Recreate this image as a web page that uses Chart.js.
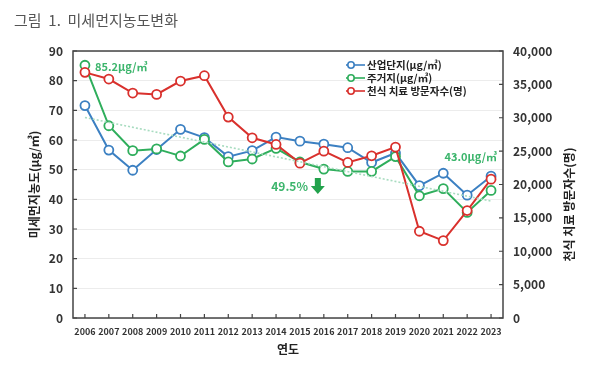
<!DOCTYPE html>
<html>
<head>
<meta charset="utf-8">
<script src="https://cdn.jsdelivr.net/npm/chart.js@4.4.1/dist/chart.umd.min.js"></script>
<style>
  html, body { margin: 0; padding: 0; background: #fff; }
  #wrap { width: 600px; height: 368px; position: relative; }
</style>
</head>
<body>
<div id="wrap"><canvas id="myChart" width="600" height="368"></canvas></div>
<script>
// 연도별 미세먼지 농도와 천식 치료 방문자수

const years = ['2006','2007','2008','2009','2010','2011','2012','2013','2014','2015','2016','2017','2018','2019','2020','2021','2022','2023'];
const industrial = [71.6, 56.6, 49.8, 56.8, 63.6, 60.8, 54.4, 56.4, 61.0, 59.6, 58.6, 57.4, 52.4, 55.6, 44.6, 48.8, 41.4, 47.8];
const residential = [85.2, 64.8, 56.4, 57.0, 54.6, 60.2, 52.6, 53.6, 57.2, 52.6, 50.2, 49.4, 49.4, 54.4, 41.2, 43.6, 35.6, 43.0];
const visitors = [36800, 35800, 33700, 33500, 35500, 36300, 30100, 27000, 26000, 23200, 25000, 23300, 24300, 25600, 13000, 11600, 16100, 20800];
const trend = [67.6, null, null, null, null, null, null, null, null, null, null, null, null, null, null, null, null, 39.4];
const leftTicks = [0, 10, 20, 30, 40, 50, 60, 70, 80, 90];
const rightTicks = [0, 5000, 10000, 15000, 20000, 25000, 30000, 35000, 40000];

const BLUE = '#3c80c2';
const GREEN = '#2fae5c';
const RED = '#d9312d';
const LABEL_GREEN = '#3cb56c';
const FONT = '"Noto Sans CJK KR", "Noto Sans", sans-serif';

const ctx = document.getElementById('myChart').getContext('2d');

function lineSet(label, data, color, axis) {
    return {
        label: label,
        data: data,
        yAxisID: axis,
        borderColor: color,
        backgroundColor: '#fff',
        borderWidth: 2,
        pointRadius: 4.5,
        pointBorderWidth: 1.8,
        pointBackgroundColor: '#fff',
        pointBorderColor: color,
        tension: 0
    };
}

const extras = {
    id: 'extras',
    afterDraw(chart) {
        const c = chart.ctx;
        const a = chart.chartArea;
        const x = chart.scales.x;
        const y = chart.scales.y;
        c.save();

        // title
        c.fillStyle = '#555';
        c.font = '15px ' + FONT;
        c.textAlign = 'left';
        c.textBaseline = 'middle';
        c.fillText('그림  1.  미세먼지농도변화', 14, 20);

        // frame
        c.strokeStyle = '#444';
        c.lineWidth = 1.5;
        c.strokeRect(a.left, a.top, a.right - a.left, a.bottom - a.top);

        // inner tick marks
        c.lineWidth = 1.2;
        c.beginPath();
        leftTicks.forEach(v => {
            const py = y.getPixelForValue(v);
            c.moveTo(a.left, py); c.lineTo(a.left + 4, py);
        });
        rightTicks.forEach(v => {
            const py = chart.scales.y1.getPixelForValue(v);
            c.moveTo(a.right, py); c.lineTo(a.right - 4, py);
        });
        years.forEach((yr, i) => {
            const px = x.getPixelForValue(i);
            c.moveTo(px, a.bottom); c.lineTo(px, a.bottom - 4);
        });
        c.stroke();

        // axis titles
        c.fillStyle = '#222';
        c.font = 'bold 12px ' + FONT;
        c.textAlign = 'center';
        c.fillText('연도', (a.left + a.right) / 2, 349);
        c.save();
        c.translate(34, (a.top + a.bottom) / 2);
        c.rotate(-Math.PI / 2);
        c.fillText('미세먼지농도(μg/㎥)', 0, 0);
        c.restore();
        c.save();
        c.translate(569, (a.top + a.bottom) / 2 + 20);
        c.rotate(-Math.PI / 2);
        c.fillText('천식 치료 방문자수(명)', 0, 0);
        c.restore();

        // annotations
        c.fillStyle = LABEL_GREEN;
        c.font = 'bold 11px ' + FONT;
        c.textAlign = 'left';
        c.fillText('85.2μg/㎥', x.getPixelForValue(0) + 10, y.getPixelForValue(85.2) + 2);
        c.textAlign = 'right';
        c.fillText('43.0μg/㎥', a.right - 6, y.getPixelForValue(54.5));
        c.font = 'bold 12px ' + FONT;
        c.fillText('49.5%', x.getPixelForValue(9) + 8, y.getPixelForValue(44.5));

        // down arrow
        const ax = x.getPixelForValue(10) - 6;
        const ay = y.getPixelForValue(47.2);
        c.fillStyle = '#22a24c';
        c.beginPath();
        c.rect(ax - 3, ay, 6, 8);
        c.moveTo(ax - 7, ay + 8);
        c.lineTo(ax + 7, ay + 8);
        c.lineTo(ax, ay + 16);
        c.closePath();
        c.fill();

        // legend
        const items = [
            ['산업단지(μg/㎥)', BLUE],
            ['주거지(μg/㎥)', GREEN],
            ['천식 치료 방문자수(명)', RED]
        ];
        c.font = 'bold 10.5px ' + FONT;
        c.textAlign = 'left';
        items.forEach((it, i) => {
            const ly = 65 + i * 13;
            c.strokeStyle = it[1];
            c.lineWidth = 1.6;
            c.beginPath();
            c.moveTo(346, ly); c.lineTo(365, ly);
            c.stroke();
            c.fillStyle = '#fff';
            c.beginPath();
            c.arc(351, ly, 3.2, 0, Math.PI * 2);
            c.fill();
            c.stroke();
            c.fillStyle = '#222';
            c.fillText(it[0], 367, ly);
        });

        c.restore();
    }
};

new Chart(ctx, {
    type: 'line',
    data: {
        labels: years,
        datasets: [
            {
                label: 'trend',
                data: trend,
                yAxisID: 'y',
                borderColor: '#a8dcc0',
                borderWidth: 1.6,
                borderDash: [2, 2],
                pointRadius: 0,
                spanGaps: true,
                tension: 0
            },
            lineSet('천식 치료 방문자수(명)', visitors, RED, 'y1'),
            lineSet('주거지(μg/㎥)', residential, GREEN, 'y'),
            lineSet('산업단지(μg/㎥)', industrial, BLUE, 'y')
        ]
    },
    options: {
        responsive: false,
        animation: false,
        layout: { padding: { top: 51, left: 0, right: 0, bottom: 0 } },
        plugins: {
            legend: { display: false },
            tooltip: { enabled: false }
        },
        scales: {
            x: {
                offset: true,
                grid: { display: false, drawTicks: false },
                border: { display: false },
                ticks: {
                    color: '#333',
                    font: { family: FONT, size: 9, weight: 'bold' },
                    maxRotation: 0,
                    autoSkip: false,
                    padding: 8
                },
                afterFit(s) { s.height = 50; }
            },
            y: {
                position: 'left',
                min: 0,
                max: 90,
                afterBuildTicks(s) { s.ticks = leftTicks.map(v => ({ value: v })); },
                grid: { color: '#ececec', drawTicks: false },
                border: { display: false },
                ticks: {
                    color: '#333',
                    font: { family: FONT, size: 12, weight: 'bold' },
                    padding: 10
                },
                afterFit(s) { s.width = 73; }
            },
            y1: {
                position: 'right',
                min: 0,
                max: 40000,
                afterBuildTicks(s) { s.ticks = rightTicks.map(v => ({ value: v })); },
                grid: { display: false, drawTicks: false },
                border: { display: false },
                ticks: {
                    color: '#333',
                    font: { family: FONT, size: 12, weight: 'bold' },
                    padding: 10,
                    callback: v => v.toLocaleString('en-US')
                },
                afterFit(s) { s.width = 97; }
            }
        }
    },
    plugins: [extras]
});
</script>
</body>
</html>
